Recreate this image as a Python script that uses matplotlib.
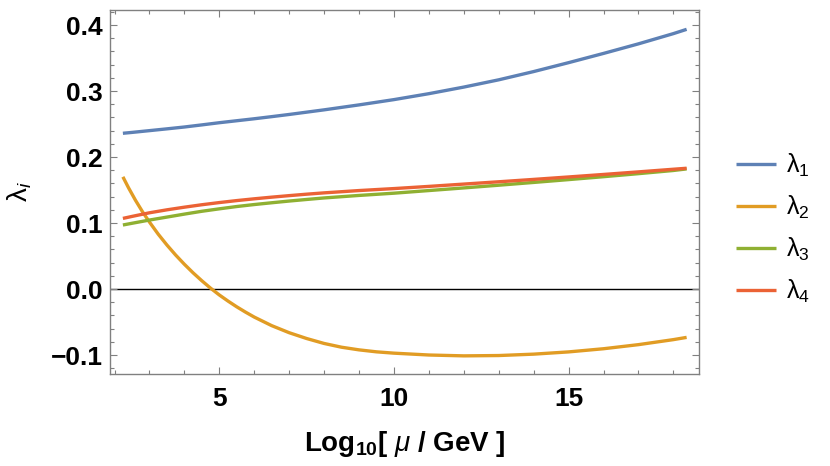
import matplotlib
matplotlib.use('Agg')
import matplotlib.pyplot as plt
from matplotlib.ticker import MultipleLocator
from matplotlib import rcParams

rcParams['font.family'] = 'Liberation Sans'
rcParams['mathtext.fontset'] = 'custom'
rcParams['mathtext.rm'] = 'Liberation Sans'
rcParams['mathtext.it'] = 'Liberation Sans:italic'
rcParams['mathtext.bf'] = 'Liberation Sans:bold'

# log10(mu / GeV)
log_mu = [2.24, 2.5, 3.0, 3.5, 4.0, 4.5, 5.0, 5.5, 6.0, 6.5, 7.0, 7.5, 8.0,
          9.0, 10.0, 11.0, 12.0, 13.0, 14.0, 15.0, 16.0, 17.0, 18.0, 18.38]

lam1 = [0.236, 0.2373, 0.240, 0.2427, 0.2455, 0.2487, 0.252, 0.255, 0.258,
        0.2612, 0.2645, 0.268, 0.2715, 0.279, 0.287, 0.296, 0.306, 0.317,
        0.3295, 0.343, 0.357, 0.3715, 0.387, 0.3935]

lam3 = [0.097, 0.0996, 0.1045, 0.109, 0.1135, 0.1178, 0.1215, 0.125, 0.128,
        0.1307, 0.1333, 0.1357, 0.138, 0.1418, 0.1452, 0.1492, 0.1532, 0.1573,
        0.1615, 0.1658, 0.1702, 0.1748, 0.1796, 0.182]

lam4 = [0.107, 0.110, 0.1155, 0.120, 0.124, 0.1277, 0.131, 0.134, 0.1367,
        0.1392, 0.1415, 0.1437, 0.1457, 0.1492, 0.1522, 0.1555, 0.159, 0.1625,
        0.1661, 0.1698, 0.1736, 0.1775, 0.1815, 0.183]

# lambda_2 bends sharply at low scale, read on a finer grid
log_mu_2 = [2.24, 2.4, 2.6, 2.8, 3.0, 3.25, 3.5, 3.75, 4.0, 4.25, 4.5, 4.75,
            5.0, 5.25, 5.5, 5.75, 6.0, 6.5, 7.0, 7.5, 8.0, 8.5, 9.0, 9.5,
            10.0, 11.0, 12.0, 13.0, 14.0, 15.0, 16.0, 17.0, 18.0, 18.38]

lam2 = [0.170, 0.1535, 0.1345, 0.1172, 0.1015, 0.0832, 0.0667, 0.0515,
        0.0375, 0.0245, 0.0125, 0.0013, -0.0090, -0.0183, -0.0270, -0.0350,
        -0.0425, -0.0555, -0.0662, -0.0750, -0.0825, -0.0882, -0.0922,
        -0.0952, -0.0972, -0.1000, -0.1013, -0.1008, -0.0987, -0.0953,
        -0.0905, -0.0843, -0.0767, -0.0733]

labels = [r'$\mathrm{\lambda}_1$', r'$\mathrm{\lambda}_2$',
          r'$\mathrm{\lambda}_3$', r'$\mathrm{\lambda}_4$']
colors = ['#5E81B5', '#E19C24', '#8FB032', '#EB6235']

fig = plt.figure(figsize=(8.3, 4.66), dpi=100)
ax = fig.add_axes([0.1325, 0.1974, 0.7095, 0.781])

ax.axhline(0, color='black', lw=1.0, zorder=1)
curves = [(log_mu, lam1), (log_mu_2, lam2), (log_mu, lam3), (log_mu, lam4)]
for (x, y), lab, c in zip(curves, labels, colors):
    ax.plot(x, y, color=c, lw=2.4, label=lab, zorder=2,
            solid_capstyle='butt', solid_joinstyle='round')

ax.set_xlim(1.87, 18.73)
ax.set_ylim(-0.1288, 0.4227)

ax.xaxis.set_major_locator(MultipleLocator(5))
ax.xaxis.set_minor_locator(MultipleLocator(1))
ax.yaxis.set_major_locator(MultipleLocator(0.1))
ax.yaxis.set_minor_locator(MultipleLocator(0.02))
ax.yaxis.set_major_formatter(plt.FuncFormatter(
    lambda v, p: ('\u2212' if v < -1e-9 else '') + '%.1f' % abs(v)))

for s in ax.spines.values():
    s.set_color('#808080')
    s.set_linewidth(1.0)

ax.tick_params(which='both', direction='in', top=True, right=True,
               color='#808080', width=0.8)
ax.tick_params(which='major', length=5)
ax.tick_params(which='minor', length=3)
ax.tick_params(axis='x', which='major', pad=9, labelsize=19)
ax.tick_params(axis='y', which='major', pad=5, labelsize=19)
for t in ax.get_xticklabels() + ax.get_yticklabels():
    t.set_fontweight('bold')

ax.set_xlabel(r'$\mathbf{Log_{10}}$[ $\mathit{\mu}$ / GeV ]',
              fontsize=20, fontweight='bold', labelpad=13)
ax.set_ylabel(r'$\mathrm{\lambda}_i$', fontsize=20, labelpad=12)

leg = ax.legend(loc='center left', bbox_to_anchor=(0.875, 0.51),
                bbox_transform=fig.transFigure, frameon=False, fontsize=18,
                handlelength=1.6, handletextpad=0.4, labelspacing=0.6,
                borderaxespad=0)
for h in leg.get_lines():
    h.set_linewidth(2.4)

fig.savefig('out.png', dpi=100)
